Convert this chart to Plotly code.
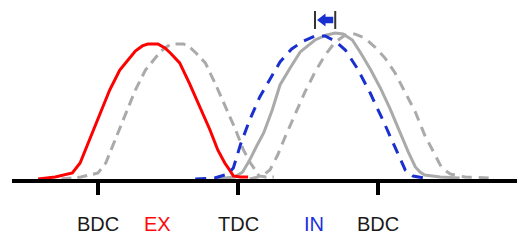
import numpy as np
import plotly.graph_objects as go

# crank angle (deg) and valve lift (mm)
ex_deg = [103, 125, 147, 157, 170, 183, 195, 208, 219, 228, 237, 244, 257, 266, 273, 285, 298, 311, 324, 334, 343, 350, 354, 363, 373]
ex_lift = [0.15, 0.29, 0.59, 1.32, 3.16, 5.0, 6.69, 8.16, 8.97, 9.56, 9.93, 10.07, 10.07, 9.78, 9.41, 8.68, 7.13, 5.44, 3.75, 2.28, 1.32, 0.74, 0.37, 0.29, 0.29]

ex_ret_deg = [133, 158, 180, 190, 203, 216, 228, 241, 252, 261, 270, 277, 290, 299, 306, 318, 331, 344, 357, 367, 376, 383, 387, 396, 406]
ex_ret_lift = [0.15, 0.29, 0.59, 1.32, 3.16, 5.0, 6.69, 8.16, 8.97, 9.56, 9.93, 10.07, 10.07, 9.78, 9.41, 8.68, 7.13, 5.44, 3.75, 2.28, 1.32, 0.74, 0.37, 0.29, 0.29]

in_adv_deg = [305, 330, 347, 354, 363, 375, 388, 399, 414, 429, 444, 459, 472, 485, 498, 513, 530, 548, 563, 575, 585, 600]
in_adv_lift = [0.15, 0.22, 0.51, 0.96, 2.65, 4.49, 6.18, 7.28, 8.75, 9.71, 10.29, 10.66, 10.66, 10.29, 9.63, 8.31, 6.47, 4.26, 2.28, 0.81, 0.37, 0.22]

in_deg = [330, 356, 366, 375, 384, 393, 404, 414, 427, 440, 459, 474, 485, 495, 507, 517, 530, 543, 555, 568, 579, 588, 594, 600, 620, 645]
in_lift = [0.15, 0.29, 0.66, 1.54, 2.57, 3.53, 5.22, 7.06, 8.31, 9.49, 10.37, 10.74, 10.88, 10.81, 10.37, 9.49, 8.24, 6.84, 5.37, 3.60, 2.13, 1.03, 0.66, 0.44, 0.29, 0.22]

in_ret_deg = [375, 391, 401, 411, 420, 433, 446, 459, 472, 485, 498, 510, 523, 536, 549, 562, 575, 588, 600, 613, 622, 633, 652, 684]
in_ret_lift = [0.15, 0.37, 0.81, 1.91, 3.16, 4.85, 6.54, 8.01, 9.26, 10.22, 10.74, 10.81, 10.51, 9.85, 9.04, 7.94, 6.54, 5.07, 3.38, 1.91, 0.96, 0.51, 0.29, 0.22]

tick_vals = [180, 360, 540]
label_x = [180, 256.5, 360, 457.7, 540]
label_text = ["BDC", "EX", "TDC", "IN", "BDC"]
label_colors = ["#1a1a1a", "#ff0a0a", "#1a1a1a", "#1a2fe0", "#1a1a1a"]

GRAY = "#aaaaaa"
BLUE = "#1a2fd0"
RED = "#ff0000"

fig = go.Figure()
fig.add_trace(go.Scatter(x=ex_ret_deg, y=ex_ret_lift, mode="lines",
                         line=dict(color=GRAY, width=3, dash="10px,6px")))
fig.add_trace(go.Scatter(x=in_ret_deg, y=in_ret_lift, mode="lines",
                         line=dict(color=GRAY, width=3, dash="10px,7px")))
fig.add_trace(go.Scatter(x=in_deg, y=in_lift, mode="lines",
                         line=dict(color=GRAY, width=3)))
fig.add_trace(go.Scatter(x=ex_deg, y=ex_lift, mode="lines",
                         line=dict(color=RED, width=3)))
fig.add_trace(go.Scatter(x=in_adv_deg, y=in_adv_lift, mode="lines",
                         line=dict(color=BLUE, width=3, dash="11px,8px")))

# phase-shift arrow between intake peaks
x_new = in_adv_deg[int(np.argmax(in_adv_lift))]
x_old = in_deg[int(np.argmax(in_lift))]
yc = 11.84
px = 1.2857  # deg per pixel
py = 0.0735  # lift per pixel
for xb in (x_new, x_old):
    fig.add_shape(type="line", x0=xb, x1=xb, y0=yc - 9 * py, y1=yc + 9 * py,
                  line=dict(color="#333333", width=2))
tip = x_new + 2 * px
base = x_new + 10.5 * px
tail = x_old - 2 * px
path = (f"M {tip},{yc} L {base},{yc + 6.5 * py} L {base},{yc + 3.2 * py} "
        f"L {tail},{yc + 3.2 * py} L {tail},{yc - 3.2 * py} L {base},{yc - 3.2 * py} "
        f"L {base},{yc - 6.5 * py} Z")
fig.add_shape(type="path", path=path, fillcolor=BLUE, line=dict(width=0))

for x, t, c in zip(label_x, label_text, label_colors):
    fig.add_annotation(x=x, y=-3.16, text=t, showarrow=False,
                       font=dict(family="Liberation Sans, Arial", size=20, color=c),
                       xanchor="center", yanchor="middle")

fig.update_layout(
    width=527, height=240,
    margin=dict(l=12, r=10, t=0, b=0),
    paper_bgcolor="white", plot_bgcolor="white",
    showlegend=False,
    xaxis=dict(range=[69.43, 718.7], showline=True, linewidth=4, linecolor="black",
               ticks="outside", tickvals=tick_vals, ticklen=12, tickwidth=4,
               tickcolor="black", showticklabels=False, showgrid=False,
               zeroline=False, anchor="free", position=59 / 240, fixedrange=True),
    yaxis=dict(range=[-59 / 13.6, 181 / 13.6], visible=False, showgrid=False,
               zeroline=False, fixedrange=True),
)

fig.write_html("out.html", config={"displayModeBar": False})
